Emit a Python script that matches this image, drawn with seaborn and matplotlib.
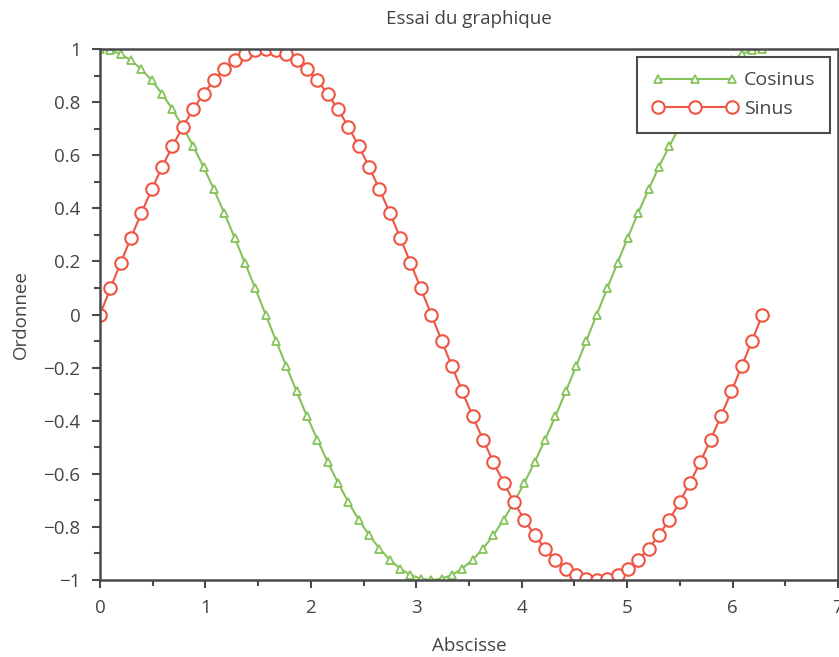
import matplotlib
matplotlib.use("Agg")
import matplotlib.pyplot as plt
import seaborn as sns
import pandas as pd
from matplotlib.ticker import MultipleLocator

x_vals = [0.000, 0.098, 0.196, 0.295, 0.393, 0.491, 0.589, 0.687, 0.785, 0.884,
          0.982, 1.080, 1.178, 1.276, 1.374, 1.473, 1.571, 1.669, 1.767, 1.865,
          1.963, 2.062, 2.160, 2.258, 2.356, 2.454, 2.553, 2.651, 2.749, 2.847,
          2.945, 3.043, 3.142, 3.240, 3.338, 3.436, 3.534, 3.633, 3.731, 3.829,
          3.927, 4.025, 4.123, 4.222, 4.320, 4.418, 4.516, 4.614, 4.712, 4.811,
          4.909, 5.007, 5.105, 5.203, 5.301, 5.400, 5.498, 5.596, 5.694, 5.792,
          5.890, 5.989, 6.087, 6.185, 6.283]

cos_vals = [1.000, 0.995, 0.981, 0.957, 0.924, 0.882, 0.831, 0.773, 0.707, 0.634,
            0.556, 0.471, 0.383, 0.290, 0.195, 0.098, 0.000, -0.098, -0.195, -0.290,
            -0.383, -0.471, -0.556, -0.634, -0.707, -0.773, -0.831, -0.882, -0.924, -0.957,
            -0.981, -0.995, -1.000, -0.995, -0.981, -0.957, -0.924, -0.882, -0.831, -0.773,
            -0.707, -0.634, -0.556, -0.471, -0.383, -0.290, -0.195, -0.098, 0.000, 0.098,
            0.195, 0.290, 0.383, 0.471, 0.556, 0.634, 0.707, 0.773, 0.831, 0.882,
            0.924, 0.957, 0.981, 0.995, 1.000]

sin_vals = [0.000, 0.098, 0.195, 0.290, 0.383, 0.471, 0.556, 0.634, 0.707, 0.773,
            0.831, 0.882, 0.924, 0.957, 0.981, 0.995, 1.000, 0.995, 0.981, 0.957,
            0.924, 0.882, 0.831, 0.773, 0.707, 0.634, 0.556, 0.471, 0.383, 0.290,
            0.195, 0.098, 0.000, -0.098, -0.195, -0.290, -0.383, -0.471, -0.556, -0.634,
            -0.707, -0.773, -0.831, -0.882, -0.924, -0.957, -0.981, -0.995, -1.000, -0.995,
            -0.981, -0.957, -0.924, -0.882, -0.831, -0.773, -0.707, -0.634, -0.556, -0.471,
            -0.383, -0.290, -0.195, -0.098, 0.000]

x_ticks = [0, 1, 2, 3, 4, 5, 6, 7]
y_ticks = [-1, -0.8, -0.6, -0.4, -0.2, 0, 0.2, 0.4, 0.6, 0.8, 1]
y_tick_labels = ["\u22121", "\u22120.8", "\u22120.6", "\u22120.4", "\u22120.2",
                 "0", "0.2", "0.4", "0.6", "0.8", "1"]

title = "Essai du graphique"
xlabel = "Abscisse"
ylabel = "Ordonnee"

sns.set_style("ticks")
plt.rcParams['font.family'] = ['Open Sans', 'DejaVu Sans']
text_col = "#444444"
spine_col = "#4a4a4a"
green = "#85C35A"
red = "#EE5542"
fs = 13.5

fig = plt.figure(figsize=(8.39, 6.57), dpi=100)
ax = fig.add_axes([100/839, 1-580/657, 738/839, 531/657])

df_c = pd.DataFrame({"x": x_vals, "y": cos_vals})
df_s = pd.DataFrame({"x": x_vals, "y": sin_vals})

sns.lineplot(data=df_c, x="x", y="y", ax=ax, color=green, lw=1.5,
             marker="^", markersize=6, markerfacecolor="white",
             markeredgecolor=green, markeredgewidth=1.3, label="Cosinus")
sns.lineplot(data=df_s, x="x", y="y", ax=ax, color=red, lw=1.5,
             marker="o", markersize=9, markerfacecolor="white",
             markeredgecolor=red, markeredgewidth=1.5, label="Sinus")

ax.set_xlim(0, 7)
ax.set_ylim(-1, 1)
ax.set_xticks(x_ticks)
ax.set_yticks(y_ticks)
ax.set_yticklabels(y_tick_labels)
ax.xaxis.set_minor_locator(MultipleLocator(0.5))
ax.yaxis.set_minor_locator(MultipleLocator(0.1))
ax.tick_params(which="major", direction="out", length=6, width=1.5, color=spine_col,
               labelsize=fs, labelcolor=text_col, pad=8)
ax.tick_params(which="minor", direction="out", length=4, width=1.5, color=spine_col)
for s in ax.spines.values():
    s.set_visible(True)
    s.set_color(spine_col)
    s.set_linewidth(1.8)

ax.set_title(title, fontsize=fs, color=text_col, pad=18)
ax.set_xlabel(xlabel, fontsize=fs, color=text_col, labelpad=14)
ax.set_ylabel(ylabel, fontsize=fs, color=text_col, labelpad=10)

leg = ax.legend(loc="upper right", numpoints=3, fontsize=14, frameon=True,
                fancybox=False, edgecolor=spine_col, borderaxespad=0.4,
                handlelength=4.4, handletextpad=0.35, labelspacing=0.55,
                borderpad=0.75)
leg.get_frame().set_linewidth(1.5)
leg.get_frame().set_alpha(1)
for t in leg.get_texts():
    t.set_color(text_col)

fig.savefig("out.png", dpi=100)
